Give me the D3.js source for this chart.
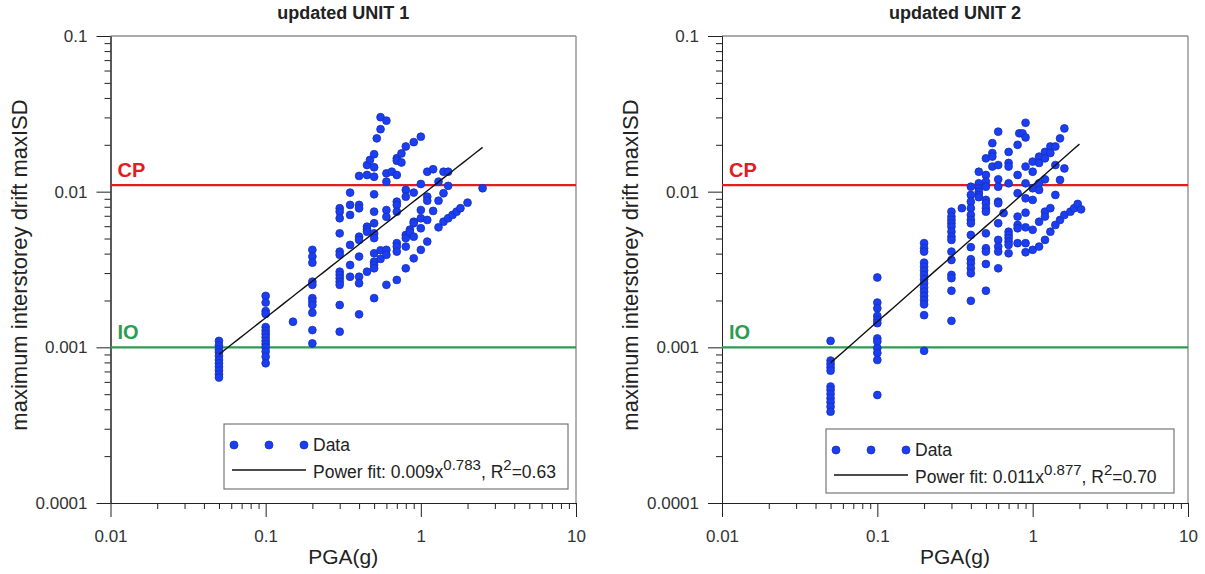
<!DOCTYPE html>
<html><head><meta charset="utf-8">
<script src="https://cdn.jsdelivr.net/npm/d3@7"></script>
<style>body{margin:0;background:#fff;} svg{font-family:"Liberation Sans",Arial,sans-serif;}</style>
</head><body><svg id="c" width="1205" height="574"></svg>
<script>
const titles = ["updated UNIT 1", "updated UNIT 2"];
const xMajorTicks = [0.01, 0.1, 1, 10];
const xTickLabels = ["0.01", "0.1", "1", "10"];
const yMajorTicks = [0.0001, 0.001, 0.01, 0.1];
const yTickLabels = ["0.0001", "0.001", "0.01", "0.1"];
const xTitle = "PGA(g)";
const yTitle = "maximum interstorey drift maxISD";
const limitNames = ["CP", "IO"];
const limitValues = [0.011, 0.001];
const fitCoef = [0.0094, 0.011];
const fitExp = [0.783, 0.877];
const fitRange = [[0.05, 2.5], [0.05, 2.0]];
const fitText = [["0.009x", "0.783", ", R", "2", "=0.63"], ["0.011x", "0.877", ", R", "2", "=0.70"]];

const unit1Points = [
[0.05,0.0011],[0.05,0.00103],[0.05,0.00097],[0.05,0.00093],[0.05,0.00088],[0.05,0.00083],[0.05,0.00079],[0.05,0.00075],[0.05,0.00071],[0.05,0.00067],[0.05,0.00064],
[0.1,0.00214],[0.1,0.00194],[0.1,0.00171],[0.1,0.00164],[0.1,0.00135],[0.1,0.00128],[0.1,0.00122],[0.1,0.00116],[0.1,0.0011],[0.1,0.00105],[0.1,0.001],[0.1,0.00094],[0.1,0.00087],[0.1,0.00079],
[0.15,0.00146],
[0.2,0.00423],[0.2,0.00383],[0.2,0.0035],[0.2,0.00264],[0.2,0.00252],[0.2,0.00207],[0.2,0.00197],[0.2,0.00187],[0.2,0.00167],[0.2,0.00129],[0.2,0.00106],
[0.3,0.00783],[0.3,0.00744],[0.3,0.00675],[0.3,0.0054],[0.3,0.00412],[0.3,0.00393],[0.3,0.00306],[0.3,0.00292],[0.3,0.00278],[0.3,0.00264],[0.3,0.00252],[0.3,0.00187],[0.3,0.00126],
[0.35,0.00986],[0.35,0.00822],[0.35,0.00709],[0.35,0.00455],[0.35,0.00338],[0.35,0.00284],
[0.4,0.01262],[0.4,0.00822],[0.4,0.00782],[0.4,0.00514],[0.4,0.0049],[0.4,0.00383],[0.4,0.00284],[0.4,0.00258],[0.4,0.00163],
[0.45,0.01483],[0.45,0.0128],[0.45,0.00596],[0.45,0.00574],[0.45,0.00553],[0.45,0.00306],[0.47,0.016],
[0.5,0.0174],[0.5,0.01435],[0.5,0.01247],[0.5,0.00962],[0.5,0.00744],[0.5,0.00627],[0.5,0.0054],[0.5,0.00503],[0.5,0.00402],[0.5,0.00355],[0.5,0.00338],[0.5,0.00322],[0.5,0.00207],
[0.52,0.022],[0.55,0.0301],[0.55,0.0252],[0.55,0.0042],[0.55,0.0037],
[0.6,0.0286],[0.6,0.01312],[0.6,0.0116],[0.6,0.00762],[0.6,0.0069],[0.6,0.00423],[0.6,0.00393],[0.6,0.00252],
[0.65,0.01343],
[0.7,0.0164],[0.7,0.0158],[0.7,0.0128],[0.7,0.00863],[0.7,0.00822],[0.7,0.00744],[0.7,0.00467],[0.7,0.00444],[0.7,0.00412],[0.7,0.00271],
[0.75,0.0176],[0.75,0.0154],
[0.8,0.0195],[0.8,0.01026],[0.8,0.00929],[0.8,0.00527],[0.8,0.00503],[0.8,0.00444],[0.8,0.00322],
[0.85,0.0057],[0.85,0.0055],
[0.9,0.0208],[0.9,0.00986],[0.9,0.00641],[0.9,0.00627],[0.9,0.00514],[0.9,0.00373],
[1.0,0.02255],[1.0,0.0112],[1.0,0.00762],[1.0,0.00675],[1.0,0.00582],[1.0,0.00423],
[1.1,0.01343],[1.1,0.00929],[1.1,0.00875],[1.1,0.00658],[1.1,0.00478],
[1.2,0.01393],[1.2,0.00752],
[1.3,0.0116],[1.3,0.00875],[1.3,0.0059],
[1.4,0.01343],[1.4,0.00977],[1.4,0.00641],
[1.5,0.01343],[1.5,0.0109],[1.5,0.00675],
[1.6,0.00709],[1.7,0.00744],[1.8,0.00783],[2.0,0.0085],[2.5,0.01052]
];

const unit2Points = [
[0.05,0.0011],[0.05,0.000822],[0.05,0.000782],[0.05,0.000744],[0.05,0.000708],[0.05,0.00056],[0.05,0.000533],[0.05,0.000502],[0.05,0.000471],[0.05,0.000444],[0.05,0.000416],[0.05,0.000386],
[0.1,0.00281],[0.1,0.00194],[0.1,0.00178],[0.1,0.00159],[0.1,0.0015],[0.1,0.00143],[0.1,0.00114],[0.1,0.00109],[0.1,0.00099],[0.1,0.00092],[0.1,0.00083],[0.1,0.000494],
[0.2,0.00467],[0.2,0.00433],[0.2,0.00412],[0.2,0.0035],[0.2,0.0033],[0.2,0.00311],[0.2,0.00292],[0.2,0.00274],[0.2,0.00258],[0.2,0.00242],[0.2,0.00228],[0.2,0.00214],[0.2,0.00201],[0.2,0.00189],[0.2,0.00161],[0.2,0.00095],
[0.3,0.00744],[0.3,0.00692],[0.3,0.00658],[0.3,0.00627],[0.3,0.00596],[0.3,0.00553],[0.3,0.00514],[0.3,0.0049],[0.3,0.00412],[0.3,0.00364],[0.3,0.00292],[0.3,0.00278],[0.3,0.00231],[0.3,0.00148],
[0.35,0.00783],
[0.4,0.01076],[0.4,0.00953],[0.4,0.00863],[0.4,0.00783],[0.4,0.00709],[0.4,0.00658],[0.4,0.00627],[0.4,0.00527],[0.4,0.0044],[0.4,0.00368],[0.4,0.00347],[0.4,0.00322],[0.4,0.00299],[0.4,0.00199],
[0.45,0.01343],[0.45,0.01132],[0.45,0.01052],[0.45,0.01],[0.45,0.00953],[0.45,0.00922],
[0.5,0.01637],[0.5,0.0128],[0.5,0.0116],[0.5,0.01076],[0.5,0.00885],[0.5,0.00842],[0.5,0.00783],[0.5,0.00744],[0.5,0.0054],[0.5,0.00433],[0.5,0.00412],[0.5,0.00343],[0.5,0.00231],
[0.55,0.0205],[0.55,0.0177],[0.55,0.0168],[0.55,0.0145],
[0.6,0.0243],[0.6,0.01483],[0.6,0.012],[0.6,0.01076],[0.6,0.00863],[0.6,0.00842],[0.6,0.00627],[0.6,0.0049],[0.6,0.00444],[0.6,0.00412],[0.6,0.00322],
[0.65,0.00729],
[0.7,0.018],[0.7,0.0153],[0.7,0.0145],[0.7,0.01132],[0.7,0.00553],[0.7,0.00527],[0.7,0.00503],[0.7,0.00478],[0.7,0.00455],[0.7,0.00402],
[0.8,0.02],[0.8,0.0128],[0.8,0.00977],[0.8,0.00692],[0.8,0.00611],[0.8,0.00582],[0.8,0.00467],
[0.82,0.0237],[0.86,0.0237],
[0.9,0.0277],[0.9,0.0223],[0.9,0.0145],[0.9,0.01132],[0.9,0.00907],[0.9,0.00733],[0.9,0.0059],[0.9,0.00467],[0.9,0.00408],
[1.0,0.0156],[1.0,0.01343],[1.0,0.01052],[1.0,0.00885],[1.0,0.00569],[1.0,0.00423],
[1.1,0.0168],[1.1,0.0153],[1.1,0.01132],[1.1,0.01026],[1.1,0.00641],[1.1,0.00444],
[1.2,0.018],[1.2,0.01637],[1.2,0.012],[1.2,0.00744],[1.2,0.00692],[1.2,0.0049],
[1.3,0.0195],[1.3,0.0177],[1.3,0.00783],[1.3,0.00553],
[1.4,0.0195],[1.4,0.01483],[1.4,0.00953],[1.4,0.00611],
[1.5,0.022],[1.5,0.0119],[1.5,0.00658],
[1.6,0.0255],[1.6,0.0141],[1.6,0.00709],
[1.75,0.00744],[1.85,0.00783],[1.95,0.00834],[2.05,0.0077]
];

const panelData = [unit1Points, unit2Points];

const svg = d3.select("#c");
const panels = [
  {x0: 110.5, x1: 576, y0: 36, y1: 503, legend: [224, 424, 344, 65]},
  {x0: 722, x1: 1188, y0: 36, y1: 503, legend: [826, 429, 348, 64]}
];
const dotFill = "#1c3ef2", dotStroke = "#1530b8";
const limitColors = ["#e31b23", "#2a9d4f"];

function minorTicks(lo, hi) {
  const out = [];
  for (let d = lo; d < hi; d *= 10) for (let k = 2; k <= 9; k++) out.push(d * k);
  return out;
}

panels.forEach((p, i) => {
  const x = d3.scaleLog().domain([0.01, 10]).range([p.x0, p.x1]);
  const y = d3.scaleLog().domain([0.0001, 0.1]).range([p.y1, p.y0]);
  const g = svg.append("g");

  g.append("line").attr("x1", p.x0).attr("x2", p.x1).attr("y1", p.y0).attr("y2", p.y0).attr("stroke", "#555").attr("stroke-width", 1);
  g.append("line").attr("x1", p.x1).attr("x2", p.x1).attr("y1", p.y0).attr("y2", p.y1).attr("stroke", "#999").attr("stroke-width", 1.5);

  const xMin = g.append("g").attr("transform", `translate(0,${p.y1})`)
    .call(d3.axisBottom(x).tickValues(minorTicks(0.01, 10)).tickSize(6).tickFormat("").tickSizeOuter(0));
  const xMaj = g.append("g").attr("transform", `translate(0,${p.y1})`)
    .call(d3.axisBottom(x).tickValues(xMajorTicks).tickSize(14).tickPadding(13)
      .tickFormat((d, k) => xTickLabels[k]).tickSizeOuter(0));
  const yMin = g.append("g").attr("transform", `translate(${p.x0},0)`)
    .call(d3.axisLeft(y).tickValues(minorTicks(0.0001, 0.1)).tickSize(6).tickFormat("").tickSizeOuter(0));
  const yMaj = g.append("g").attr("transform", `translate(${p.x0},0)`)
    .call(d3.axisLeft(y).tickValues(yMajorTicks).tickSize(14).tickPadding(9)
      .tickFormat((d, k) => yTickLabels[k]).tickSizeOuter(0));
  [xMin, xMaj, yMin, yMaj].forEach(a => {
    a.selectAll("path,line").attr("stroke", "#222").attr("stroke-width", 1);
    a.selectAll("text").attr("font-size", 17).attr("fill", "#333").attr("font-family", "Liberation Sans, Arial, sans-serif");
  });

  limitValues.forEach((v, k) => {
    g.append("line").attr("x1", p.x0).attr("x2", p.x1).attr("y1", y(v)).attr("y2", y(v))
      .attr("stroke", limitColors[k]).attr("stroke-width", 2.2);
    g.append("text").attr("x", p.x0 + 7).attr("y", y(v) - 8).text(limitNames[k])
      .attr("fill", limitColors[k]).attr("font-weight", "bold").attr("font-size", 20);
  });

  g.append("g").selectAll("circle").data(panelData[i]).join("circle")
    .attr("cx", d => x(d[0])).attr("cy", d => y(d[1])).attr("r", 3.9)
    .attr("fill", dotFill).attr("stroke", dotStroke).attr("stroke-width", 0.8);

  const fx = d3.range(0, 41).map(t => fitRange[i][0] * Math.pow(fitRange[i][1] / fitRange[i][0], t / 40));
  g.append("path").datum(fx)
    .attr("d", d3.line().x(d => x(d)).y(d => y(fitCoef[i] * Math.pow(d, fitExp[i]))))
    .attr("fill", "none").attr("stroke", "#111").attr("stroke-width", 1.4);

  const cx = (p.x0 + p.x1) / 2;
  g.append("text").attr("x", cx).attr("y", 19).attr("text-anchor", "middle")
    .attr("font-weight", "bold").attr("font-size", 18).attr("fill", "#222").text(titles[i]);
  g.append("text").attr("x", cx).attr("y", 564).attr("text-anchor", "middle")
    .attr("font-size", 21).attr("fill", "#222").text(xTitle);
  g.append("text").attr("transform", `translate(${p.x0 - 84},265) rotate(-90)`).attr("text-anchor", "middle")
    .attr("font-size", 22).attr("fill", "#222").text(yTitle);

  const [lx, ly, lw, lh] = p.legend;
  const lg = g.append("g");
  lg.append("rect").attr("x", lx).attr("y", ly).attr("width", lw).attr("height", lh)
    .attr("fill", "#fff").attr("stroke", "#777").attr("stroke-width", 1.2);
  [10, 45, 80].forEach(dx => lg.append("circle").attr("cx", lx + dx).attr("cy", ly + 21).attr("r", 4)
    .attr("fill", dotFill).attr("stroke", dotStroke).attr("stroke-width", 0.8));
  lg.append("text").attr("x", lx + 89).attr("y", ly + 27).attr("font-size", 17.5).attr("fill", "#222").text("Data");
  lg.append("line").attr("x1", lx + 8).attr("x2", lx + 82).attr("y1", ly + 46).attr("y2", ly + 46)
    .attr("stroke", "#111").attr("stroke-width", 1.4);
  const t = lg.append("text").attr("x", lx + 89).attr("y", ly + 54).attr("font-size", 17.5).attr("fill", "#222");
  const ft = fitText[i];
  t.append("tspan").text("Power fit: " + ft[0]);
  t.append("tspan").attr("dy", -8).attr("font-size", 15).text(ft[1]);
  t.append("tspan").attr("dy", 8).text(ft[2]);
  t.append("tspan").attr("dy", -8).attr("font-size", 15).text(ft[3]);
  t.append("tspan").attr("dy", 8).text(ft[4]);
});
</script></body></html>
